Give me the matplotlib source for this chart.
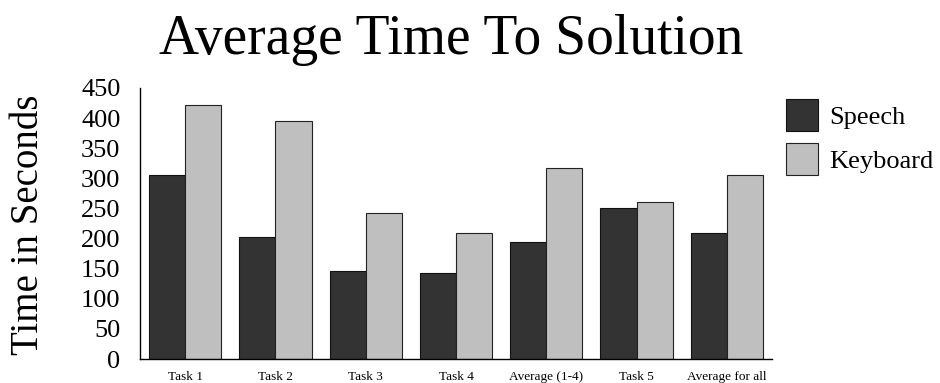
import matplotlib
matplotlib.use("Agg")
import matplotlib.pyplot as plt
import numpy as np

# Average solution times per task, in seconds
categories = ["Task 1", "Task 2", "Task 3", "Task 4", "Average (1-4)", "Task 5", "Average for all"]
speech = [305, 202, 146, 143, 194, 250, 209]
keyboard = [422, 396, 243, 210, 317, 261, 306]
y_ticks = [0, 50, 100, 150, 200, 250, 300, 350, 400, 450]

plt.rcParams["font.family"] = ["Liberation Serif", "DejaVu Serif"]

fig = plt.figure(figsize=(9.4, 3.83), dpi=100)
ax = fig.add_axes([140 / 940, 24 / 383, 632 / 940, 271 / 383])

x = np.arange(len(categories))
w = 0.4
ax.bar(x - w / 2, speech, width=w, color="#333333", edgecolor="#111111",
       linewidth=0.8, label="Speech")
ax.bar(x + w / 2, keyboard, width=w, color="#bfbfbf", edgecolor="#222222",
       linewidth=0.8, label="Keyboard")

ax.set_xlim(-0.5, 6.5)
ax.set_ylim(0, 450)
ax.set_yticks(y_ticks)
ax.set_yticklabels([str(v) for v in y_ticks], fontsize=19)
ax.set_xticks(x)
ax.set_xticklabels(categories, fontsize=9.5)
ax.tick_params(axis="y", length=0, pad=14)
ax.tick_params(axis="x", length=0, pad=8.5)

for side in ("top", "right"):
    ax.spines[side].set_visible(False)
for side in ("left", "bottom"):
    ax.spines[side].set_linewidth(1.0)
    ax.spines[side].set_color("black")

fig.text(451 / 940, 1 - 40 / 383, "Average Time To Solution", fontsize=40,
         ha="center", va="center")
fig.text(29 / 940, 1 - 225 / 383, "Time in Seconds", fontsize=28,
         rotation=90, ha="center", va="center")

ax.legend(loc="upper left", bbox_to_anchor=(786 / 940, 1 - 99 / 383),
          bbox_transform=fig.transFigure, frameon=False, fontsize=19,
          borderpad=0, borderaxespad=0, handlelength=1.2, handleheight=1.49,
          handletextpad=0.45, labelspacing=0.45)

fig.savefig("out.png", dpi=100)
